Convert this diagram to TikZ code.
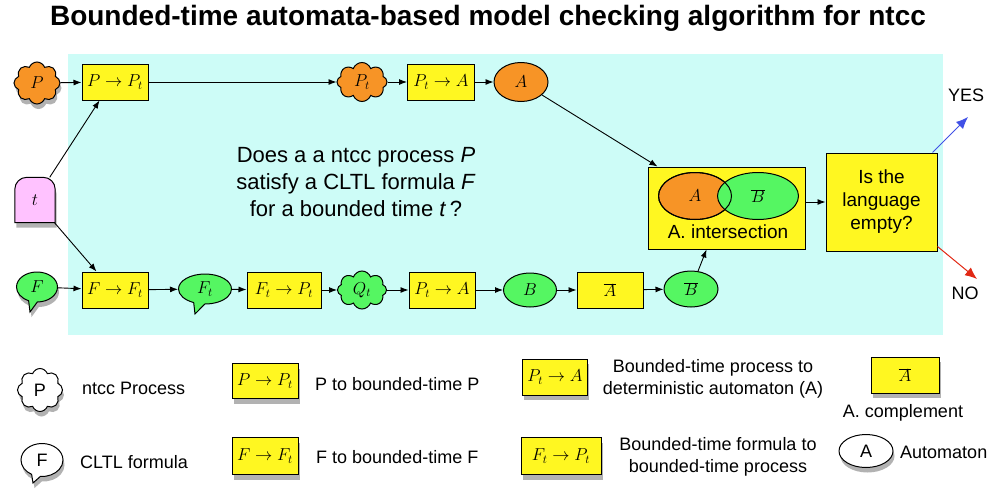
\documentclass[tikz,border=0pt]{standalone}
\usepackage{fontspec}
\setmainfont{Liberation Sans}
\usetikzlibrary{shapes.geometric,shapes.symbols,shapes.callouts,arrows.meta,shadows}

\definecolor{cyanbg}{RGB}{205,252,247}
\definecolor{orng}{RGB}{247,148,38}
\definecolor{yel}{RGB}{255,247,33}
\definecolor{grn}{RGB}{85,246,98}
\definecolor{pnk}{RGB}{255,194,255}
\definecolor{yesblue}{RGB}{64,80,230}
\definecolor{nored}{RGB}{225,40,20}

\tikzset{
 nodebase/.style={draw=black, line width=1pt, inner sep=0pt},
 mbox/.style={nodebase, rectangle, fill=yel, minimum width=66pt, minimum height=36pt, font=\fontsize{17}{20}\selectfont},
 cloudn/.style={nodebase, cloud, cloud puffs=8, cloud puff arc=140, cloud ignores aspect, minimum width=46pt, minimum height=42pt, font=\fontsize{17}{20}\selectfont},
 ell/.style={nodebase, ellipse, minimum width=54pt, minimum height=36pt, font=\fontsize{17}{20}\selectfont},
 bubble/.style={nodebase, ellipse callout, callout pointer arc=25, minimum width=41pt, minimum height=30pt, font=\fontsize{17}{20}\selectfont},
 shad/.style={drop shadow={shadow xshift=1.5pt, shadow yshift=-5pt, opacity=0.3, fill=black}},
 arr/.style={line width=0.9pt, -{Latex[length=8pt,width=6pt]}},
 legtxt/.style={font=\fontsize{18}{22}\selectfont, inner sep=0pt},
}

\begin{document}
\begin{tikzpicture}[x=1pt,y=-1pt]
\useasboundingbox (0,0) rectangle (1000,490);
\fill[cyanbg] (68,54) rectangle (943,335);

\node[font=\bfseries\fontsize{28}{32}\selectfont, anchor=base, inner sep=0pt] (title) at (488,25) {Bounded-time automata-based model checking algorithm for ntcc};

% top row
\node[cloudn, fill=orng, shad] (P) at (37,83) {$P$};
\node[mbox] (PPt) at (115,82) {$P\to P_t$};
\node[cloudn, fill=orng, minimum width=50pt, minimum height=39pt] (Pt) at (362,82) {$P_t$};
\node[mbox, minimum width=67pt] (PtA) at (441,82) {$P_t\to A$};
\node[ell, fill=orng, minimum height=39pt] (A) at (521,82) {$A$};

% t
\node[minimum width=40pt, minimum height=45pt, inner sep=0pt] (t) at (35,200) {};
\draw[line width=1pt, fill=pnk, shad] (t.south west) [rounded corners=12pt] -- (t.north west) -- (t.north east) [sharp corners] -- (t.south east) -- cycle;
\node[font=\fontsize{17}{20}\selectfont] (tlabel) at (t.center) {$t$};

% bottom row
\node[bubble, fill=grn, shad, callout absolute pointer={(30,312)}] (F) at (37,287) {$F$};
\node[mbox] (FFt) at (115,290) {$F\to F_t$};
\node[bubble, fill=grn, minimum width=53pt, callout absolute pointer={(195,314)}] (Ft) at (205,289) {$F_t$};
\node[mbox, minimum width=74pt] (FtPt) at (284,290) {$F_t\to P_t$};
\node[cloudn, fill=grn, minimum width=49pt, minimum height=38pt] (Qt) at (362,290) {$Q_t$};
\node[mbox] (PtA2) at (442,290) {$P_t\to A$};
\node[ell, fill=grn, minimum width=53pt, minimum height=34pt] (B) at (530,290) {$B$};
\node[mbox] (Abar) at (610,290) {$\overline{A}$};
\node[ell, fill=grn, minimum height=36pt] (Bbar) at (691,289) {$\overline{B}$};

% intersection
\node[nodebase, fill=yel, minimum width=157pt, minimum height=82pt] (inter) at (726.5,208) {};
\node[ell, fill=orng, minimum width=73pt, minimum height=47pt] (iA) at (695,196) {$A$};
\node[ell, fill=grn, minimum width=81pt, minimum height=47pt] (iB) at (758,196) {$\overline{B}$};
\draw[line width=1pt] (iA.center) ellipse [x radius=36.5pt, y radius=23.5pt];
\node[font=\fontsize{19}{22}\selectfont, inner sep=0pt] (interlabel) at (728,232) {A. intersection};

% language
\node[nodebase, fill=yel, minimum width=111pt, minimum height=98pt, align=center, font=\fontsize{19}{23}\selectfont] (lang) at (881.5,202) {Is the\\language\\empty?};

\coordinate (yesend) at (968,117);
\coordinate (noend) at (977,279);
\node[legtxt] (yes) at (966,95) {YES};
\node[legtxt] (no) at (965,293) {NO};
\draw[line width=1pt, yesblue, -{Latex[length=12pt,width=10pt]}] ([xshift=-5pt]lang.north east) -- (yesend);
\draw[line width=1pt, nored, -{Latex[length=12pt,width=10pt]}] ([yshift=5pt]lang.south east) -- (noend);

% question
\node[font=\fontsize{22}{27}\selectfont, align=center, anchor=north, inner sep=0pt] (question) at (356,147) {Does a a ntcc process \textit{P}\\satisfy a CLTL formula \textit{F}\\for a bounded time \textit{t}\,?};

% connectors
\draw[arr] (P) -- (PPt);
\draw[arr] (PPt) -- (Pt);
\draw[arr] (Pt) -- (PtA);
\draw[arr] (PtA) -- (A);
\draw[arr] (A) -- ([xshift=10pt]inter.north west);
\draw[arr] (t) -- ([xshift=18pt]PPt.south west);
\draw[arr] (t) -- ([xshift=15pt]FFt.north west);
\draw[arr] (F) -- (FFt);
\draw[arr] (FFt) -- (Ft);
\draw[arr] (Ft) -- (FtPt);
\draw[arr] (FtPt) -- (Qt);
\draw[arr] (Qt) -- (PtA2);
\draw[arr] (PtA2) -- (B);
\draw[arr] (B) -- (Abar);
\draw[arr] (Abar) -- (Bbar);
\draw[arr] (Bbar) -- ([xshift=-20pt]inter.south);
\draw[arr] (inter.east |- lang) -- (lang);

% legend
\node[cloudn, fill=white, shad, font=\fontsize{18}{20}\selectfont, minimum width=45pt, minimum height=43pt] (LP) at (40,390) {P};
\node[legtxt, anchor=west] (LPtxt) at (82,388) {ntcc Process};
\node[bubble, fill=white, shad, font=\fontsize{18}{20}\selectfont, minimum width=42pt, minimum height=33pt, callout absolute pointer={(33,483)}] (LF) at (42,460) {F};
\node[legtxt, anchor=west] (LFtxt) at (80,462) {CLTL formula};
\node[mbox, shad, minimum height=35pt] (LPPt) at (265,381) {$P\to P_t$};
\node[legtxt, anchor=west] (LPPttxt) at (315,384) {P to bounded-time P};
\node[mbox, shad, minimum height=37pt] (LFFt) at (265,456) {$F\to F_t$};
\node[legtxt, anchor=west] (LFFttxt) at (316,457) {F to bounded-time F};
\node[mbox, shad, minimum width=65pt] (LPtA) at (555,377) {$P_t\to A$};
\node[legtxt, align=center] (LPtAtxt) at (713,379) {Bounded-time process to\\deterministic automaton (A)};
\node[mbox, shad, minimum width=80pt, minimum height=37pt] (LFtPt) at (561,456) {$F_t\to P_t$};
\node[legtxt, align=center] (LFtPttxt) at (718,457) {Bounded-time formula to\\bounded-time process};
\node[mbox, shad, minimum width=68pt] (LAbar) at (905,375) {$\overline{A}$};
\node[legtxt] (LAbartxt) at (903,413) {A. complement};
\node[ell, fill=white, shad, font=\fontsize{18}{20}\selectfont, minimum width=54pt, minimum height=33pt] (LA) at (866,451) {A};
\node[legtxt, anchor=west] (LAtxt) at (900,452) {Automaton};
\end{tikzpicture}
\end{document}
